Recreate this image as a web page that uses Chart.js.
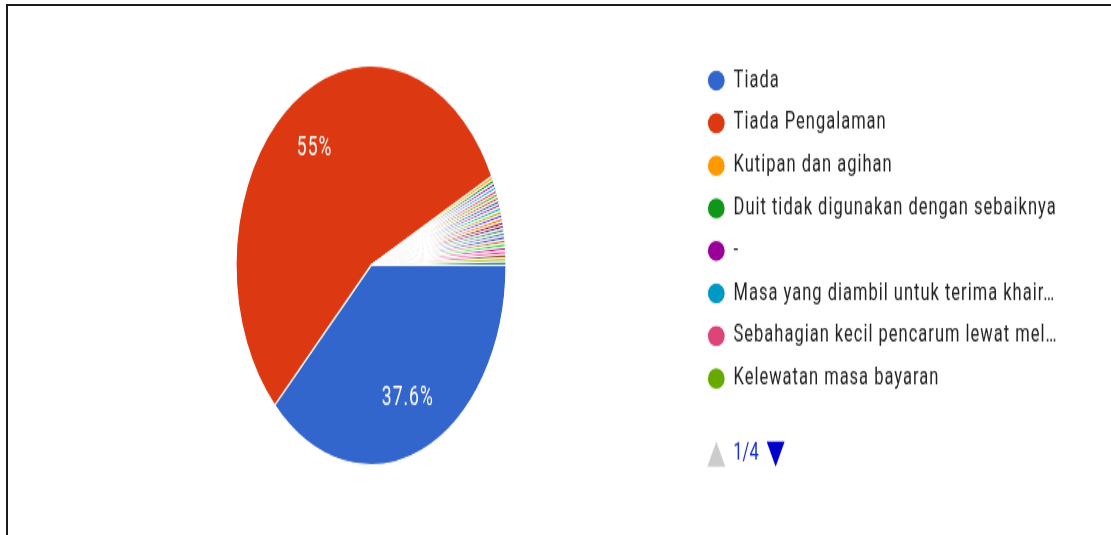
<!DOCTYPE html>
<html>
<head>
<meta charset="utf-8">
<script src="https://cdn.jsdelivr.net/npm/chart.js@4/dist/chart.umd.min.js"></script>
<style>
  html, body { margin: 0; padding: 0; background: #fff; overflow: hidden; }
  #stretch { position: absolute; left: 0; top: 0; width: 1111px; height: 362px;
             transform: scaleY(1.478); transform-origin: 0 0; }
  #frame { position: absolute; left: 6px; top: 4px; width: 1105px; height: 531px;
           border-left: 2px solid #1a1a1a; border-top: 2px solid #1a1a1a; }
</style>
</head>
<body>
<div id="stretch"><canvas id="pie" width="1111" height="362"></canvas></div>
<div id="frame"></div>
<script>
// Responses (counts). Only the first legend page (8 answers) is readable;
// the other thin slices are single responses on pages 2-4.
const labels = [
  "Tiada",
  "Tiada Pengalaman",
  "Kutipan dan agihan",
  "Duit tidak digunakan dengan sebaiknya",
  "-",
  "Masa yang diambil untuk terima khair\u2026",
  "Sebahagian kecil pencarum lewat mel\u2026",
  "Kelewatan masa bayaran",
  "Jawapan 9", "Jawapan 10", "Jawapan 11", "Jawapan 12", "Jawapan 13",
  "Jawapan 14", "Jawapan 15", "Jawapan 16", "Jawapan 17", "Jawapan 18",
  "Jawapan 19", "Jawapan 20", "Jawapan 21", "Jawapan 22", "Jawapan 23",
  "Jawapan 24", "Jawapan 25", "Jawapan 26", "Jawapan 27"
];
const counts = [128, 187, 1, 1, 1, 1, 1, 1, 1, 1, 1, 1, 1, 1, 1, 1, 1, 1, 1, 1, 1, 1, 1, 1, 1, 1, 1];
const colors = [
  "#3366cc", "#dc3912", "#ff9900", "#109618", "#990099", "#0099c6", "#dd4477", "#66aa00",
  "#b82e2e", "#316395", "#994499", "#22aa99", "#aaaa11", "#6633cc", "#e67300", "#8b0707",
  "#651067", "#329262", "#5574a6", "#3b3eac", "#b77322", "#16d620", "#b91383", "#f4359e",
  "#9c5935", "#a9c413", "#2a778d"
];
const legendPage = "1/4";
const perPage = 8;

const FONT = "Roboto";
const total = counts.reduce((s, v) => s + v, 0);
const pctText = v => {
  const p = Math.round(v / total * 1000) / 10;
  return (p % 1 === 0 ? p.toFixed(0) : p.toFixed(1)) + "%";
};

// screenshot text is a bit wider than plain Roboto
const wideText = {
  id: "wideText",
  beforeDraw(chart) { chart.ctx.letterSpacing = "1px"; }
};

// Legend keeps a fixed width so the pie sits where it should
const fixedLegendWidth = {
  id: "fixedLegendWidth",
  afterInit(chart) {
    const legend = chart.legend;
    const fit = legend.fit.bind(legend);
    legend.fit = function() { fit(); this.width = 416; };
  }
};

// Percent labels inside the big slices
const sliceLabels = {
  id: "sliceLabels",
  afterDatasetsDraw(chart) {
    const ctx = chart.ctx;
    const meta = chart.getDatasetMeta(0);
    ctx.save();
    ctx.font = "17.5px " + FONT;
    ctx.fillStyle = "#fff";
    ctx.textAlign = "center";
    ctx.textBaseline = "middle";
    meta.data.forEach((arc, i) => {
      if (counts[i] / total < 0.05) return;
      const { x, y, startAngle, endAngle, outerRadius } = arc.getProps(["x", "y", "startAngle", "endAngle", "outerRadius"], true);
      const mid = (startAngle + endAngle) / 2;
      const r = outerRadius * 0.72;
      ctx.fillText(pctText(counts[i]), x + Math.cos(mid) * r, y + Math.sin(mid) * r);
    });
    ctx.restore();
  }
};

// Page indicator under the legend
const legendPager = {
  id: "legendPager",
  afterDraw(chart) {
    const legend = chart.legend;
    const boxes = legend.legendHitBoxes;
    if (!boxes.length) return;
    const last = boxes[boxes.length - 1];
    const x0 = last.left;
    const cy = last.top + last.height / 2 + 51;
    const ctx = chart.ctx;
    ctx.save();
    ctx.fillStyle = "#cccccc";
    ctx.beginPath();
    ctx.moveTo(x0, cy + 8.5); ctx.lineTo(x0 + 18, cy + 8.5); ctx.lineTo(x0 + 9, cy - 8.5);
    ctx.closePath(); ctx.fill();
    ctx.letterSpacing = "0px";
    ctx.font = "16.5px " + FONT;
    ctx.fillStyle = "#1a2fcf";
    ctx.textBaseline = "middle";
    ctx.fillText(legendPage, x0 + 26, cy);
    const w = ctx.measureText(legendPage).width;
    const x1 = x0 + 26 + w + 8;
    ctx.fillStyle = "#0000cc";
    ctx.beginPath();
    ctx.moveTo(x1, cy - 8.5); ctx.lineTo(x1 + 18, cy - 8.5); ctx.lineTo(x1 + 9, cy + 8.5);
    ctx.closePath(); ctx.fill();
    ctx.restore();
  }
};

new Chart(document.getElementById("pie"), {
  type: "pie",
  data: {
    labels: labels,
    datasets: [{
      data: counts,
      backgroundColor: colors,
      borderColor: "#ffffff",
      borderWidth: 1.2
    }]
  },
  options: {
    responsive: false,
    animation: false,
    rotation: 90,
    radius: 135,
    layout: { padding: { left: 47, right: 0, top: 34, bottom: 37 } },
    plugins: {
      tooltip: { enabled: false },
      legend: {
        position: "right",
        align: "start",
        labels: {
          usePointStyle: true,
          pointStyle: "circle",
          pointStyleWidth: 18,
          boxHeight: 10.5,
          padding: 12.3,
          color: "#222222",
          font: { family: FONT, size: 16.5 },
          filter: item => item.index < perPage
        }
      }
    }
  },
  plugins: [wideText, fixedLegendWidth, sliceLabels, legendPager]
});
</script>
</body>
</html>
